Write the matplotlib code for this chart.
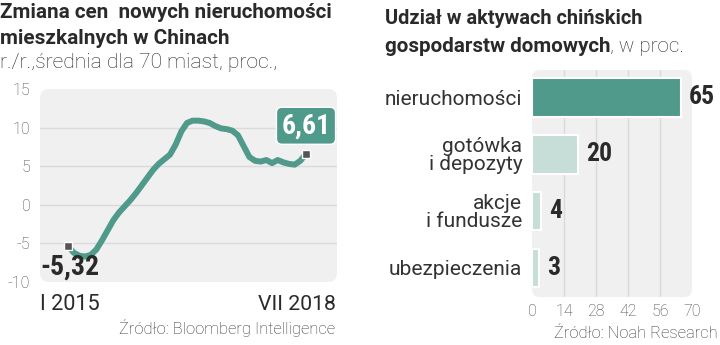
import matplotlib
matplotlib.use('Agg')
import matplotlib.pyplot as plt
from matplotlib.patches import FancyBboxPatch
import numpy as np

# Monthly y/y change of new home prices, I 2015 .. VII 2018
price_change = [-5.32, -6.2, -6.6, -6.7, -6.5, -5.8, -4.6, -3.3, -2.0, -1.0,
                -0.2, 0.6, 1.5, 2.5, 3.5, 4.5, 5.3, 5.9, 6.5, 7.8,
                9.5, 10.6, 10.9, 10.9, 10.8, 10.6, 10.2, 9.9, 9.8, 9.6,
                9.0, 7.6, 6.2, 5.7, 5.6, 5.8, 5.4, 5.8, 5.5, 5.3,
                5.2, 5.7, 6.61]
first_label = 'I 2015'
last_label = 'VII 2018'
y_ticks = [15, 10, 5, 0, -5, -10]

# Household assets split, %
asset_names = ['nieruchomości', 'gotówka\ni depozyty', 'akcje\ni fundusze', 'ubezpieczenia']
asset_share = [65, 20, 4, 3]
x_ticks = [0, 14, 28, 42, 56, 70]

TEAL = '#4f9a8b'
LIGHT = '#c6ded7'
BG = '#f0f0f0'
GRID = '#dadada'
TXT = '#2a2a2a'
SANS = ['Roboto', 'DejaVu Sans']
NARROW = ['Roboto Condensed', 'Liberation Sans Narrow', 'Roboto']

W, H = 720, 345
fig = plt.figure(figsize=(W / 100, H / 100), dpi=100)
fig.patch.set_facecolor('white')
renderer = fig.canvas.get_renderer()


def fx(px):
    return px / W


def fy(py):
    return 1 - py / H


def fit(txt, width_px):
    # scale the font so the text spans the given width in pixels
    w = txt.get_window_extent(renderer).width
    txt.set_fontsize(txt.get_fontsize() * width_px / w)
    return txt


def rounded_bg(ax, r=0.03):
    bb = ax.get_position()
    aspect = (bb.width * W) / (bb.height * H)
    bg = FancyBboxPatch((0, 0), 1, 1, boxstyle=f'round,pad=0,rounding_size={r}',
                        mutation_aspect=aspect, transform=ax.transAxes,
                        facecolor=BG, edgecolor='none', zorder=0, clip_on=False)
    ax.add_patch(bg)
    ax.set_facecolor('none')


# ---- left: price change line ----
ax1 = fig.add_axes([fx(40), fy(282), fx(297), 193 / H])
rounded_bg(ax1)
months = np.arange(len(price_change))
ax1.set_xlim(-4.94, len(price_change) - 1 + 5.47)
ax1.set_ylim(-10, 15)
for v in y_ticks[1:-1]:
    ax1.axhline(v, color=GRID, lw=1, zorder=1)
ax1.plot(months, price_change, color=TEAL, lw=4.3, solid_capstyle='round',
         solid_joinstyle='round', zorder=3)
ax1.plot([months[0], months[-1]], [price_change[0], price_change[-1]], 's',
         color='#555555', mec='white', mew=1, ms=6, zorder=4)
ax1.set_yticks(y_ticks)
ax1.set_yticklabels([str(v) for v in y_ticks])
ax1.tick_params(axis='y', length=0, pad=7, labelsize=11.5, labelcolor='#444444')
ax1.set_xticks([])
for s in ax1.spines.values():
    s.set_visible(False)
for lab in ax1.get_yticklabels():
    lab.set_fontfamily(SANS)
    lab.set_fontweight('light')

ax1.annotate(f'{price_change[0]:.2f}'.replace('.', ','), (months[0], price_change[0]),
             xytext=(-28, -21), textcoords='offset pixels', ha='left', va='center',
             fontsize=20, fontweight='bold', family=NARROW, color=TXT, zorder=5)
ax1.annotate(f'{price_change[-1]:.2f}'.replace('.', ','), (months[-1], price_change[-1]),
             xytext=(0, 28), textcoords='offset pixels', ha='center', va='center',
             fontsize=20, fontweight='bold', family=NARROW, color='white', zorder=5,
             bbox=dict(boxstyle='round,pad=0.18,rounding_size=0.2', fc=TEAL,
                       ec='white', lw=1))

fit(fig.text(fx(40), fy(305), first_label, ha='left', va='center', fontsize=15,
             family=SANS, color=TXT), 60)
fit(fig.text(fx(336), fy(305), last_label, ha='right', va='center', fontsize=15,
             family=SANS, color=TXT), 78)

fit(fig.text(0, fy(13), 'Zmiana cen  nowych nieruchomości', ha='left', va='center',
             fontsize=14, fontweight='bold', family=SANS, color=TXT), 332)
fit(fig.text(0, fy(38), 'mieszkalnych w Chinach', ha='left', va='center',
             fontsize=14, fontweight='bold', family=SANS, color=TXT), 230)
fit(fig.text(0, fy(63), 'r./r.,średnia dla 70 miast, proc.,', ha='left', va='center',
             fontsize=13, fontweight='light', family=SANS, color=TXT), 277)
fit(fig.text(fx(335), fy(328), 'Źródło: Bloomberg Intelligence', ha='right',
             va='center', fontsize=12, fontweight='light', family=SANS,
             color='#333333'), 215)

# ---- right: household assets bars ----
ax2 = fig.add_axes([fx(532), fy(297), fx(160), 227 / H])
rounded_bg(ax2, r=0.05)
ax2.set_xlim(0, 70)
ax2.set_ylim(3.51, -0.48)
for v in x_ticks[1:-1]:
    ax2.axvline(v, color=GRID, lw=1, zorder=1)
pos = np.arange(len(asset_share))
colors = [TEAL] + [LIGHT] * (len(asset_share) - 1)
ax2.barh(pos, asset_share, height=0.68, color=colors, edgecolor='white',
         linewidth=1.5, zorder=3)
for p, v in zip(pos, asset_share):
    ax2.annotate(str(v), (v, p), xytext=(8, 0), textcoords='offset pixels',
                 ha='left', va='center', fontsize=18.5, fontweight='bold',
                 family=NARROW, color=TXT)
ax2.set_yticks(pos)
ax2.set_yticklabels(asset_names, fontsize=15, family=SANS, fontweight='normal',
                    color='#333333', linespacing=0.95)
ax2.set_xticks(x_ticks)
ax2.set_xticklabels([str(v) for v in x_ticks], fontsize=11.5, family=SANS,
                    fontweight='light', color='#444444')
ax2.tick_params(length=0)
ax2.tick_params(axis='y', pad=7)
ax2.tick_params(axis='x', pad=5)
for s in ax2.spines.values():
    s.set_visible(False)

fit(fig.text(fx(385), fy(19), 'Udział w aktywach chińskich', ha='left', va='center',
             fontsize=14, fontweight='bold', family=SANS, color=TXT), 258)
t2 = fit(fig.text(fx(385), fy(46), 'gospodarstw domowych', ha='left', va='center',
                  fontsize=14, fontweight='bold', family=SANS, color=TXT), 227)
ax2.annotate(', w proc.', xy=(1, 0), xycoords=t2, ha='left', va='bottom',
             fontsize=t2.get_fontsize(), fontweight='light', family=SANS, color=TXT,
             annotation_clip=False)
fit(fig.text(fx(718), fy(334), 'Źródło: Noah Research', ha='right', va='center',
             fontsize=12, fontweight='light', family=SANS, color='#333333'), 163)

fig.savefig('out.png', dpi=100, facecolor='white')
